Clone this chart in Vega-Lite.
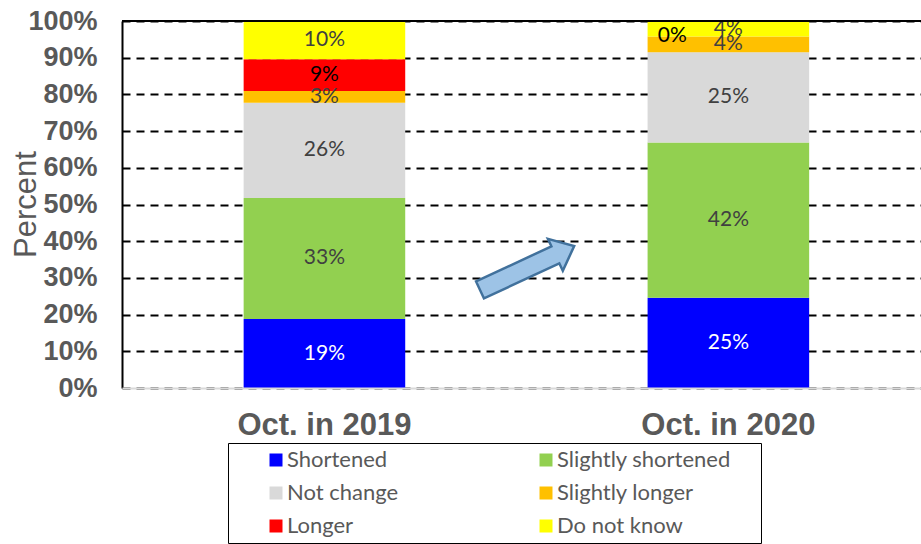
{
  "$schema": "https://vega.github.io/schema/vega-lite/v6.json",
  "width": 799,
  "height": 367,
  "autosize": "none",
  "padding": {"left": 122, "top": 21, "right": 0, "bottom": 156},
  "background": "white",
  "config": {
    "view": {"stroke": null},
    "axisY": {
      "titleFont": "Liberation Sans", "titleFontSize": 31,
      "titleFontWeight": "normal", "titleColor": "#595959",
      "titleAngle": -90, "titleX": -87, "titleY": 183, "titleAlign": "center",
      "titleBaseline": "alphabetic",
      "format": ".0%", "ticks": false, "tickSize": 0, "labelPadding": 25, "tickCount": 11,
      "labelFont": "Liberation Sans", "labelFontWeight": "bold", "labelFontSize": 27,
      "labelColor": "#595959", "labelOverlap": false,
      "domainColor": "black", "domainWidth": 2,
      "grid": true, "gridColor": "black", "gridWidth": 2, "gridDash": [8, 6]
    }
  },
  "data": {
    "values": [
      {"year": "Oct. in 2019", "cat": "Shortened", "k": 1, "pct": 0.188},
      {"year": "Oct. in 2019", "cat": "Slightly shortened", "k": 2, "pct": 0.33},
      {"year": "Oct. in 2019", "cat": "Not change", "k": 3, "pct": 0.259},
      {"year": "Oct. in 2019", "cat": "Slightly longer", "k": 4, "pct": 0.032},
      {"year": "Oct. in 2019", "cat": "Longer", "k": 5, "pct": 0.087},
      {"year": "Oct. in 2019", "cat": "Do not know", "k": 6, "pct": 0.104},
      {"year": "Oct. in 2020", "cat": "Shortened", "k": 1, "pct": 0.246},
      {"year": "Oct. in 2020", "cat": "Slightly shortened", "k": 2, "pct": 0.423},
      {"year": "Oct. in 2020", "cat": "Not change", "k": 3, "pct": 0.246},
      {"year": "Oct. in 2020", "cat": "Slightly longer", "k": 4, "pct": 0.043},
      {"year": "Oct. in 2020", "cat": "Longer", "k": 5, "pct": 0},
      {"year": "Oct. in 2020", "cat": "Do not know", "k": 6, "pct": 0.042}
    ]
  },
  "resolve": {"scale": {"x": "independent"}, "axis": {"x": "independent"}},
  "layer": [
    {
      "layer": [
        {
          "mark": {"type": "bar"},
          "encoding": {
            "x": {
              "field": "year", "type": "nominal", "sort": null,
              "scale": {"paddingInner": 0.6, "paddingOuter": 0.289, "align": 0.521},
              "axis": {
                "title": null, "labelAngle": 0, "ticks": false, "tickSize": 0,
                "labelPadding": 22, "labelFont": "Liberation Sans", "labelFontWeight": "bold",
                "labelFontSize": 31, "labelColor": "#595959",
                "domainColor": "#d9d9d9", "domainWidth": 2, "zindex": 1
              }
            },
            "y": {
              "field": "pct", "type": "quantitative", "stack": "zero",
              "scale": {"domain": [0, 1], "nice": false},
              "axis": {"title": "Percent", "tickCount": 11, "values": [0, 0.1, 0.2, 0.3, 0.4, 0.5, 0.6, 0.7, 0.8, 0.9, 1]}
            },
            "order": {"field": "k", "type": "quantitative"},
            "color": {
              "field": "cat", "type": "nominal",
              "sort": ["Shortened", "Slightly shortened", "Not change", "Slightly longer", "Longer", "Do not know"],
              "scale": {
                "domain": ["Shortened", "Slightly shortened", "Not change", "Slightly longer", "Longer", "Do not know"],
                "range": ["#0000FF", "#92D050", "#D9D9D9", "#FFC000", "#FF0000", "#FFFF00"]
              },
              "legend": {
                "title": " ", "titleOrient": "right", "titlePadding": 24, "titleFontSize": 8,
                "orient": "none", "legendX": 106, "legendY": 422,
                "columns": 2, "direction": "horizontal",
                "symbolType": "square", "symbolSize": 169, "symbolStrokeWidth": 0,
                "symbolOffset": 31, "labelOffset": 0, "labelLimit": 400,
                "labelFont": "Lato", "labelFontSize": 22, "labelColor": "#595959",
                "strokeColor": "black", "padding": 6, "columnPadding": 105, "rowPadding": 11
              }
            }
          }
        },
        {
          "transform": [{"filter": "datum.pct > 0"}],
          "mark": {"type": "text", "font": "Lato", "fontSize": 21},
          "encoding": {
            "x": {"field": "year", "type": "nominal", "sort": null},
            "y": {
              "field": "pct", "type": "quantitative", "stack": "zero", "bandPosition": 0.5,
              "axis": {"title": "Percent", "tickCount": 11, "values": [0, 0.1, 0.2, 0.3, 0.4, 0.5, 0.6, 0.7, 0.8, 0.9, 1]}
            },
            "detail": {"field": "cat"},
            "order": {"field": "k", "type": "quantitative"},
            "text": {"field": "pct", "type": "quantitative", "format": ".0%"},
            "color": {
              "condition": [
                {"test": "datum.cat === 'Shortened'", "value": "white"},
                {"test": "datum.cat === 'Longer'", "value": "black"}
              ],
              "value": "#404040"
            }
          }
        },
        {
          "transform": [
            {"stack": "pct", "groupby": ["year"], "sort": [{"field": "k"}], "as": ["lo", "hi"]},
            {"filter": "datum.pct == 0"}
          ],
          "mark": {"type": "text", "font": "Lato", "fontSize": 21, "dx": -56, "color": "black"},
          "encoding": {
            "x": {"field": "year", "type": "nominal", "sort": null},
            "y": {
              "field": "lo", "type": "quantitative", "stack": null,
              "axis": {"title": "Percent", "tickCount": 11, "values": [0, 0.1, 0.2, 0.3, 0.4, 0.5, 0.6, 0.7, 0.8, 0.9, 1]}
            },
            "text": {"field": "pct", "type": "quantitative", "format": ".0%"}
          }
        },
        {
          "data": {"values": [{"v": 1}]},
          "mark": {"type": "rule", "color": "black", "strokeWidth": 2},
          "encoding": {
            "y": {
              "field": "v", "type": "quantitative",
              "axis": {"title": "Percent", "tickCount": 11, "values": [0, 0.1, 0.2, 0.3, 0.4, 0.5, 0.6, 0.7, 0.8, 0.9, 1]}
            }
          }
        }
      ]
    },
    {
      "data": {"values": [{"ax": 0.507, "ay": 0.327}]},
      "mark": {
        "type": "point", "filled": true, "size": 10800, "angle": -25,
        "shape": "M-1,-0.18L0.6,-0.18L0.6,-0.34L1,0L0.6,0.34L0.6,0.18L-1,0.18Z",
        "fill": "#9DC3E6", "stroke": "#41719C", "strokeWidth": 2.5, "opacity": 1, "fillOpacity": 1
      },
      "encoding": {
        "x": {"field": "ax", "type": "quantitative", "scale": {"domain": [0, 1]}, "axis": null},
        "y": {
          "field": "ay", "type": "quantitative",
          "axis": {"title": "Percent", "tickCount": 11, "values": [0, 0.1, 0.2, 0.3, 0.4, 0.5, 0.6, 0.7, 0.8, 0.9, 1]}
        }
      }
    }
  ]
}
